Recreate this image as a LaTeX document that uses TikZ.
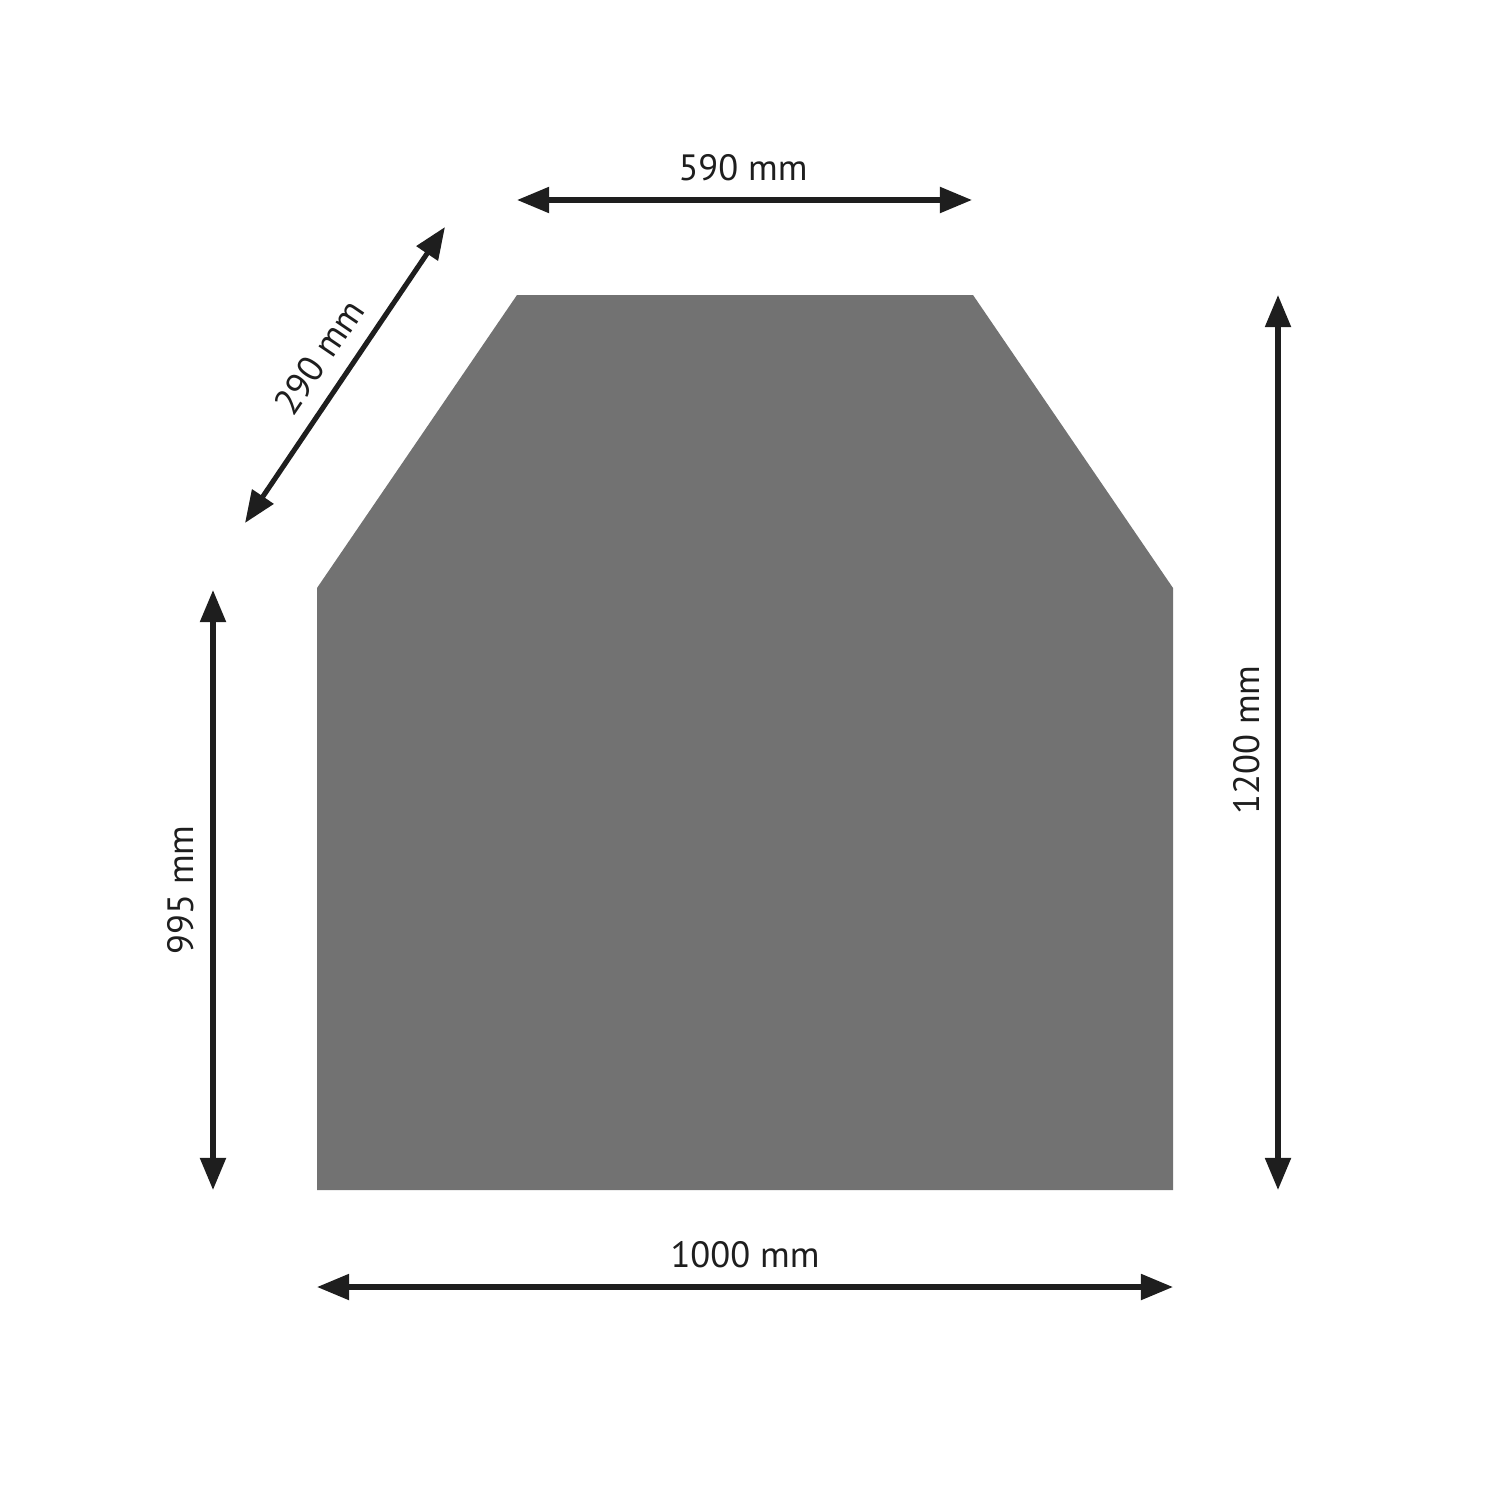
\documentclass[tikz,border=0pt]{standalone}
\usepackage{fontspec}
\setmainfont{PT Sans}
\usetikzlibrary{arrows.meta}
\definecolor{plate}{HTML}{727272}
\definecolor{ink}{HTML}{1E1E1E}
\begin{document}
\begin{tikzpicture}[x=0.01cm,y=-0.01cm,
  dim/.style={draw=ink,line width=1.45pt,{Triangle[length=0.32cm,width=0.25cm]}-{Triangle[length=0.32cm,width=0.25cm]}},
  lbl/.style={text=ink,font=\fontsize{10.4}{12.5}\selectfont,inner sep=0pt}]
\useasboundingbox (0,0) rectangle (1500,1500);
\fill[plate] (317,588) -- (517,295) -- (973,295) -- (1173,588) -- (1173,1190) -- (317,1190) -- cycle;
\coordinate (t1) at (517,200); \coordinate (t2) at (972,200);
\coordinate (d1) at (245,523); \coordinate (d2) at (445,227);
\coordinate (r1) at (1278,295); \coordinate (r2) at (1278,1190);
\coordinate (l1) at (213,590); \coordinate (l2) at (213,1190);
\coordinate (b1) at (317,1287); \coordinate (b2) at (1173,1287);
\draw[dim] (t1) -- (t2);
\draw[dim] (d1) -- (d2);
\draw[dim] (r1) -- (r2);
\draw[dim] (l1) -- (l2);
\draw[dim] (b1) -- (b2);
\node[lbl] (lt) at (743,168) {590 mm};
\node[lbl,rotate=55.8] (ld) at (319,357) {290 mm};
\node[lbl,rotate=90] (lr) at (1247,740) {1200 mm};
\node[lbl,rotate=90] (ll) at (181,890) {995 mm};
\node[lbl] (lb) at (745,1255) {1000 mm};
\end{tikzpicture}
\end{document}
